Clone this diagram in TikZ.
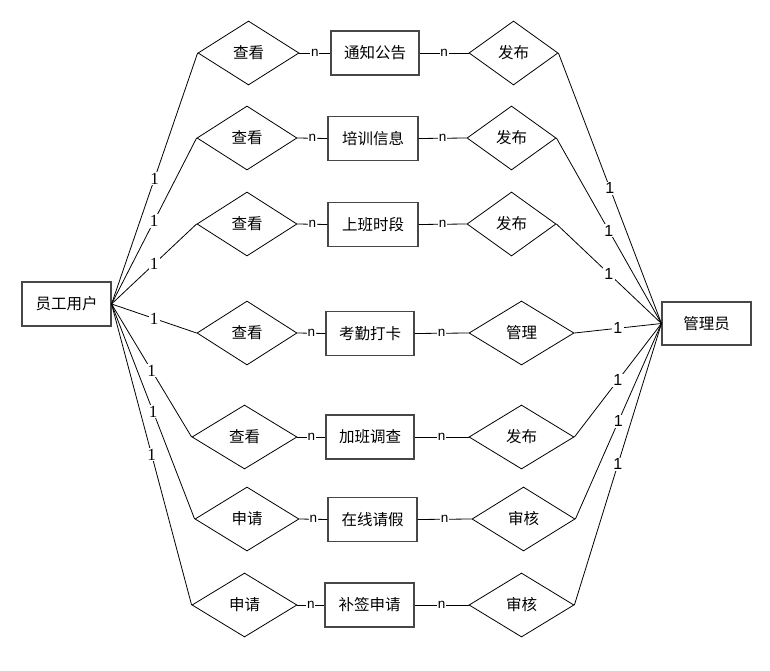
\documentclass[tikz,border=0pt]{standalone}
\usepackage{fontspec}
\usetikzlibrary{shapes.geometric}
\newfontfamily\cjk{Noto Sans CJK SC}
\newfontfamily\lbsans{Liberation Sans}
\newfontfamily\lbserif{Liberation Serif}
\tikzset{
  ent/.style={draw=black!72, line width=1.1pt, rectangle, minimum width=89pt, minimum height=44pt, inner sep=0pt, font=\cjk\fontsize{15.5}{17}\selectfont},
  rel/.style={draw=black, line width=0.8pt, diamond, inner sep=0pt, minimum height=64pt, font=\cjk\fontsize{15.5}{17}\selectfont},
  link/.style={draw=black, line width=0.8pt},
  nlab/.style={fill=white, inner sep=0.8pt, font=\lbsans\fontsize{13.5}{13.5}\selectfont},
  onel/.style={fill=white, inner sep=1.2pt, font=\lbserif\fontsize{17}{17}\selectfont},
  oner/.style={fill=white, inner sep=1.2pt, font=\lbsans\fontsize{16}{16}\selectfont}
}
\begin{document}
\begin{tikzpicture}[x=1pt,y=-1pt]
\useasboundingbox (0,0) rectangle (770,671);
% entities
\node[ent] (emp) at (66.5,304) {员工用户};
\node[ent, minimum height=43pt] (adm) at (706.5,323.5) {管理员};
% row 1
\node[rel, minimum width=101pt] (l1) at (248.5,53) {查看};
\node[ent, minimum width=88pt] (e1) at (375,53) {通知公告};
\node[rel, minimum width=89pt] (r1) at (513.5,53) {发布};
% row 2
\node[rel, minimum width=100pt] (l2) at (247,138) {查看};
\node[ent, minimum width=90pt] (e2) at (373,138.5) {培训信息};
\node[rel, minimum width=89pt] (r2) at (511.5,138) {发布};
% row 3
\node[rel, minimum width=100pt] (l3) at (247,224) {查看};
\node[ent, minimum width=90pt] (e3) at (373,224.5) {上班时段};
\node[rel, minimum width=89pt] (r3) at (511.5,224) {发布};
% row 4
\node[rel, minimum width=100pt] (l4) at (247,333) {查看};
\node[ent, minimum width=88pt] (e4) at (370,333.5) {考勤打卡};
\node[rel, minimum width=105pt] (r4) at (521.5,333) {管理};
% row 5
\node[rel, minimum width=105pt] (l5) at (244.5,437) {查看};
\node[ent, minimum width=88pt] (e5) at (370,437) {加班调查};
\node[rel, minimum width=105pt] (r5) at (521.5,437) {发布};
% row 6
\node[rel, minimum width=104pt] (l6) at (247,519) {申请};
\node[ent, minimum width=89pt] (e6) at (372.5,519.5) {在线请假};
\node[rel, minimum width=103pt] (r6) at (523.5,519) {审核};
% row 7
\node[rel, minimum width=105pt] (l7) at (244.5,605) {申请};
\node[ent, minimum width=89pt] (e7) at (369.5,605) {补签申请};
\node[rel, minimum width=105pt] (r7) at (521.5,605) {审核};
% connectors
\foreach \i in {1,...,7}{
  \draw[link] (l\i.east) -- node[nlab]{n} (e\i.west);
  \draw[link] (e\i.east) -- node[nlab]{n} (r\i.west);
  \draw[link] (emp.east) -- node[onel]{1} (l\i.west);
  \draw[link] (adm.west) -- node[oner]{1} (r\i.east);
}
\end{tikzpicture}
\end{document}
